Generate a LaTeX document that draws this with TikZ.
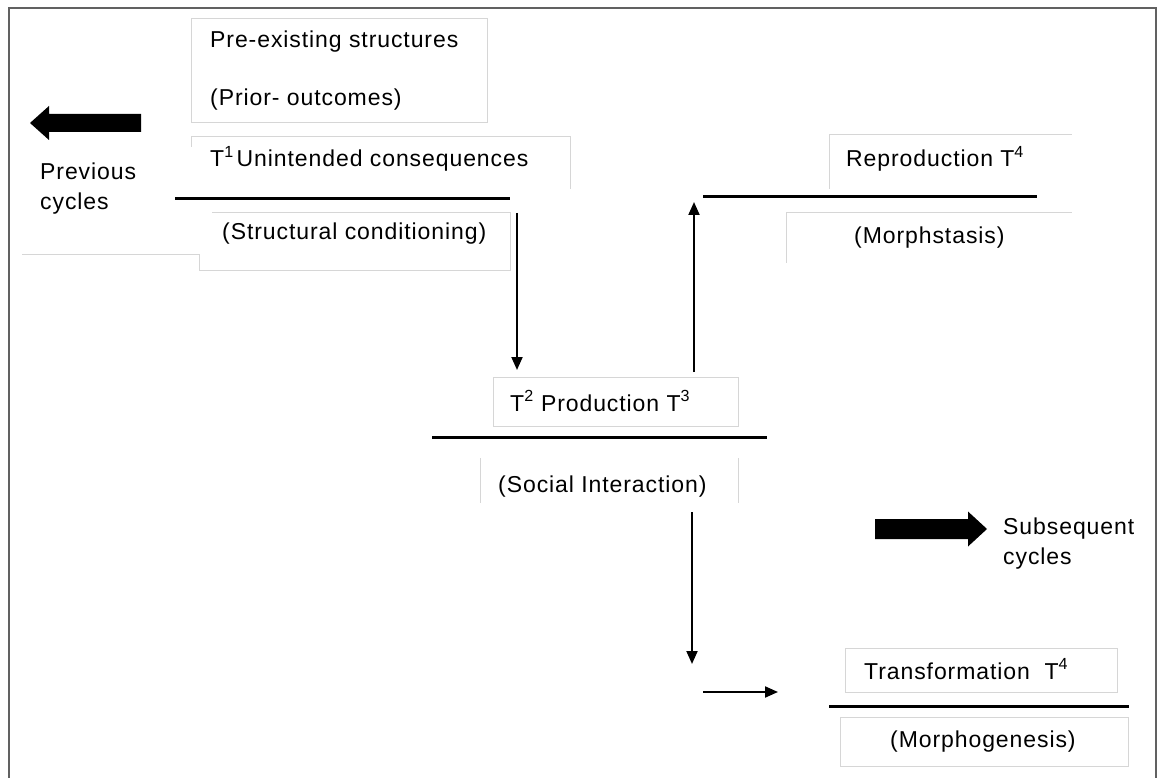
\documentclass[tikz,border=0pt]{standalone}
\usepackage{fontspec}
\setmainfont{Liberation Sans}[LetterSpace=4]
\usetikzlibrary{arrows.meta}
\begin{document}
\begin{tikzpicture}[x=1pt,y=-1pt,
  lbl/.style={anchor=base west,inner sep=0pt,font=\fontsize{23}{30}\selectfont,text=black},
  lbl2/.style={anchor=north west,inner sep=0pt,align=left,font=\fontsize{23}{30}\selectfont,text=black},
  faint/.style={draw=black!16,line width=1pt},
  bar/.style={draw=black,line width=3pt},
  arr/.style={draw=black,line width=2pt,-{Triangle[width=11pt,length=13pt]}},
  block/.style={fill=black}]
\useasboundingbox (0,0) rectangle (1160,778);
\fill[white] (0,0) rectangle (1160,778);
% outer frame
\draw[black!62,line width=2pt] (9,778) -- (9,8) -- (1156,8) -- (1156,778);

% faint text frames
\draw[faint] (191,19) rectangle (487,123);
\draw[faint] (191,147) -- (191,137) -- (570,137) -- (570,189);
\draw[faint] (22,255) -- (199,255) -- (199,271) -- (510,271) -- (510,213) -- (212,213);
\draw[faint] (829,189) -- (829,135) -- (1072,135);
\draw[faint] (786,263) -- (786,213) -- (1072,213);
\draw[faint] (493,377) rectangle (738,426);
\draw[faint] (480,458) -- (480,503);
\draw[faint] (738,458) -- (738,503);
\draw[faint] (845,648) rectangle (1117,692);
\draw[faint] (840,717) rectangle (1128,766);

% texts
\node[lbl] (pre) at (210,48) {Pre-existing structures};
\node[lbl] (prior) at (210,106) {(Prior- outcomes)};
\node[lbl] (t1) at (210,167) {T\textsuperscript{1}\kern3pt Unintended consequences};
\node[lbl] (struct) at (222,240) {(Structural conditioning)};
\node[lbl] (repro) at (846,167) {Reproduction T\textsuperscript{4}};
\node[lbl] (morphs) at (854,244) {(Morphstasis)};
\node[lbl] (prod) at (510,411) {T\textsuperscript{2} Production T\textsuperscript{3}};
\node[lbl] (social) at (498,492) {(Social Interaction)};
\node[lbl] (transf) at (864,679) {Transformation\ \ T\textsuperscript{4}};
\node[lbl] (morphg) at (890,747) {(Morphogenesis)};
\node[lbl2] (prev) at (40,163) {Previous\\cycles};
\node[lbl2] (subs) at (1003,518) {Subsequent\\cycles};

% thick separator lines
\coordinate (l1a) at (175,199); \coordinate (l1b) at (510,199);
\coordinate (l2a) at (703,197); \coordinate (l2b) at (1037,197);
\coordinate (l3a) at (432,437); \coordinate (l3b) at (767,437);
\coordinate (l4a) at (829,706); \coordinate (l4b) at (1129,706);
\draw[bar] (l1a) -- (l1b);
\draw[bar] (l2a) -- (l2b);
\draw[bar] (l3a) -- (l3b);
\draw[bar] (l4a) -- (l4b);

% arrows
\coordinate (a1s) at (517,213); \coordinate (a1e) at (517,370);
\coordinate (a2s) at (694,372); \coordinate (a2e) at (694,202);
\coordinate (a3s) at (692,512); \coordinate (a3e) at (692,664);
\coordinate (a4s) at (703,692); \coordinate (a4e) at (778,692);
\draw[arr] (a1s) -- (a1e);
\draw[arr] (a2s) -- (a2e);
\draw[arr] (a3s) -- (a3e);
\draw[arr] (a4s) -- (a4e);

% block arrows
\fill[block] (30,123) -- (49,106) -- (49,114) -- (141,114) -- (141,132) -- (49,132) -- (49,140) -- cycle;
\fill[block] (987,529) -- (968,511.5) -- (968,519) -- (875,519) -- (875,539) -- (968,539) -- (968,546.5) -- cycle;
\end{tikzpicture}
\end{document}
